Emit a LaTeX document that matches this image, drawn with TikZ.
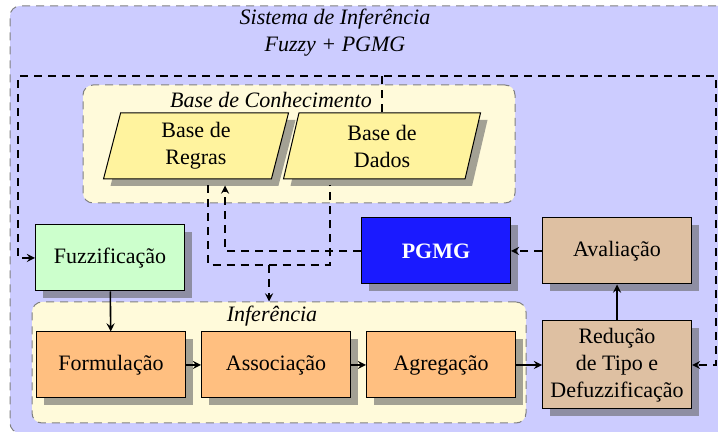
\documentclass[tikz,border=0pt]{standalone}
\usepackage{fontspec}
\setmainfont{Liberation Serif}
\usetikzlibrary{shapes.geometric, shadows}
\definecolor{Lavender}{RGB}{204,204,255}
\definecolor{Cream}{RGB}{255,250,218}
\definecolor{Sand}{RGB}{255,243,158}
\definecolor{Mint}{RGB}{204,255,204}
\definecolor{Peach}{RGB}{255,191,128}
\definecolor{Tan}{RGB}{222,192,162}
\definecolor{Royal}{RGB}{26,26,255}
\begin{document}
\begin{tikzpicture}[x=0.5pt, y=-0.5pt, font=\fontsize{11}{13.5}\selectfont,
  boxshadow/.style={drop shadow={shadow xshift=3.5pt, shadow yshift=-3.5pt, fill=black!60, opacity=0.6}},
  box/.style={draw, line width=0.5pt, fill=#1, minimum width=74.5pt, minimum height=33pt, align=center, boxshadow},
  store/.style={draw, line width=0.5pt, fill=Sand, trapezium, trapezium left angle=70, trapezium right angle=110, trapezium stretches body, inner ysep=0pt, minimum height=33pt, align=center, boxshadow},
  panel/.style={draw=gray, line width=0.5pt, dash pattern=on 4pt off 3pt, rounded corners=5pt, fill=#1},
  flow/.style={thick, dash pattern=on 4pt off 3pt},
  link/.style={thick, -stealth}]
\useasboundingbox (0,0) rectangle (718,432);
\node[panel=Lavender, minimum width=365pt, minimum height=213.5pt] (system) at (375,219.5) {};
\node[align=center, font=\fontsize{11}{13.5}\selectfont\itshape] (systitle) at (335,33) {Sistema de Inferência\\Fuzzy + PGMG};
\node[panel=Cream, minimum width=216pt, minimum height=59pt] (base) at (299,144) {};
\node[font=\fontsize{11}{13.5}\selectfont\itshape] (basetitle) at (271,100) {Base de Conhecimento};
\node[panel=Cream, minimum width=247pt, minimum height=60.5pt] (infer) at (279,362.5) {};
\node[font=\fontsize{11}{13.5}\selectfont\itshape] (infertitle) at (272,316) {Inferência};
\node[store, minimum width=92.5pt] (regras) at (196,146) {Base de\\Regras};
\node[store, minimum width=98.5pt] (dados) at (382,146) {Base de\\Dados};
\node[box=Mint] (fuzz) at (110,258) {Fuzzificação};
\node[box=Royal, text=white, font=\fontsize{11}{13.5}\selectfont\bfseries] (pgmg) at (436,251) {PGMG};
\node[box=Tan] (aval) at (617,251) {Avaliação};
\node[box=Peach] (form) at (111,365) {Formulação};
\node[box=Peach] (assoc) at (276,365) {Associação};
\node[box=Peach] (agreg) at (441,365) {Agregação};
\node[box=Tan, minimum height=44pt] (redu) at (617,365) {Redução\\de Tipo e\\Defuzzificação};
\coordinate (join) at (269,265);
\coordinate (loopL) at (18,76);
\coordinate (loopR) at (716,76);
\draw[link] (fuzz) -- (form);
\draw[link] (form) -- (assoc);
\draw[link] (assoc) -- (agreg);
\draw[link] (agreg) -- (redu);
\draw[link] (redu) -- (aval);
\draw[link, flow] (aval) -- (pgmg);
\draw[link, flow] (pgmg.west) -| ([shift={(29,6)}]regras.south);
\draw[flow] ([shift={(12,6)}]regras.south) |- (join) -| ([shift={(-52,6)}]dados.south);
\draw[link, flow] (join) -- (join |- infer.north);
\draw[flow] (dados.north) -- (dados.north |- loopL);
\draw[flow, stealth-stealth] (fuzz.west) -| (loopL) -- (loopR) |- (redu.east);
\end{tikzpicture}
\end{document}
